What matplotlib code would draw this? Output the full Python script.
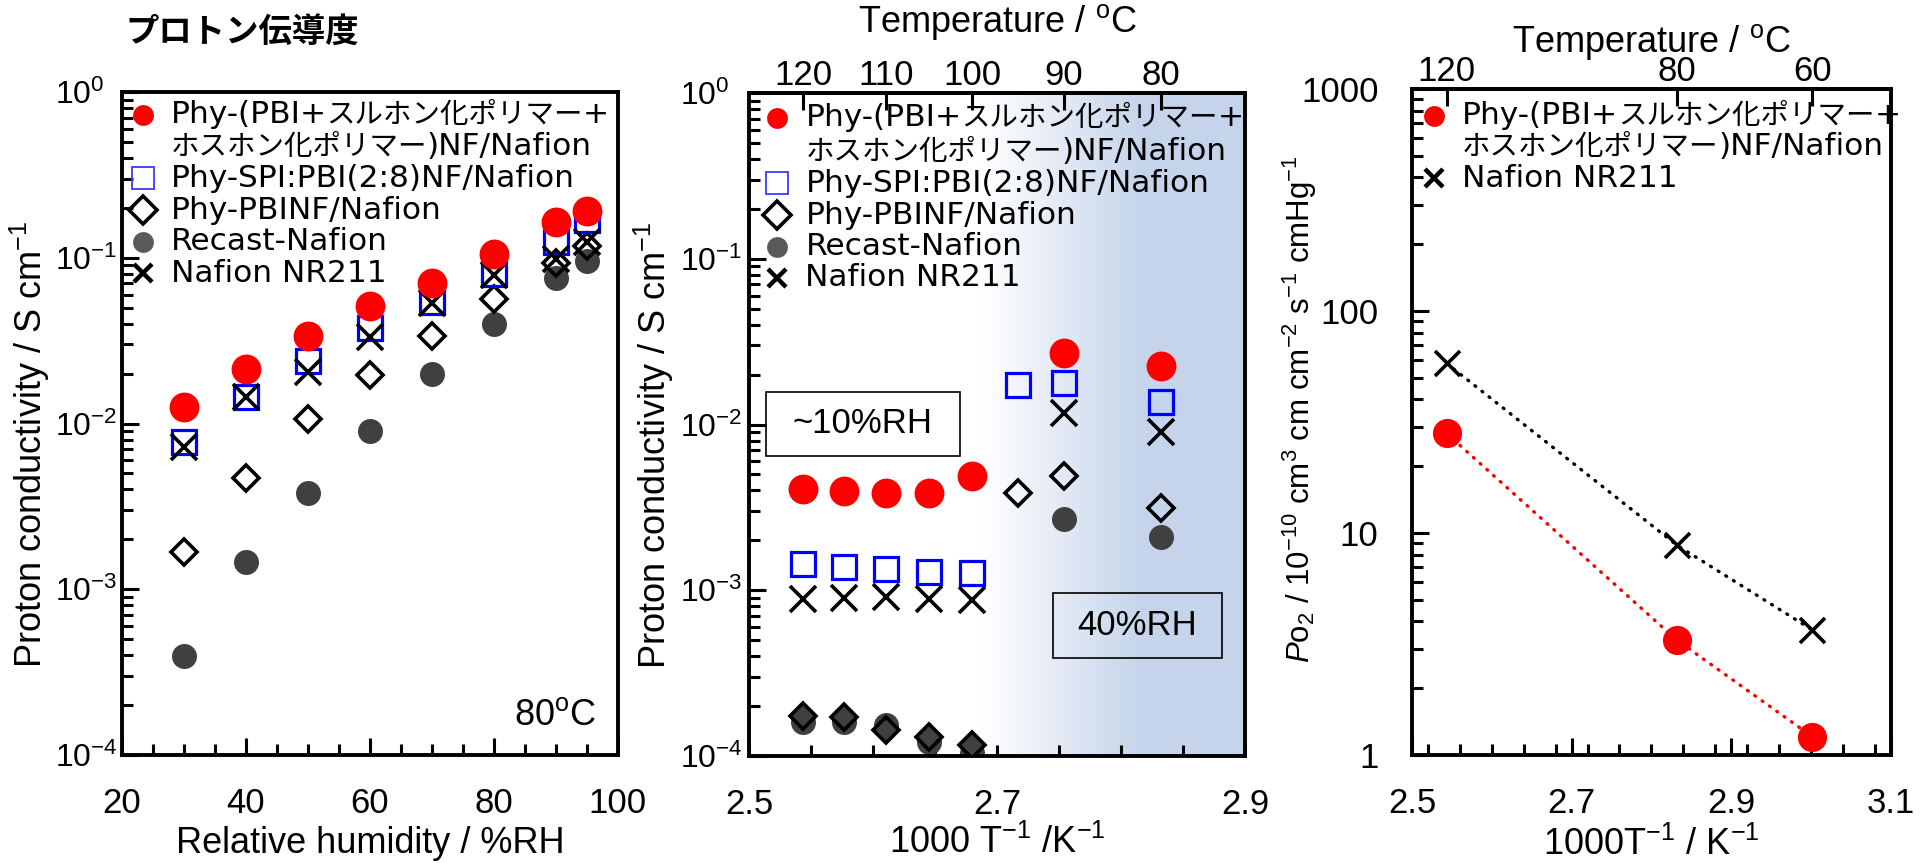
import numpy as np
import matplotlib
matplotlib.use('Agg')
import matplotlib.pyplot as plt
from matplotlib.ticker import FixedLocator, LogLocator, NullFormatter, FuncFormatter, MultipleLocator
from matplotlib.patches import Rectangle
from matplotlib.offsetbox import TextArea, HPacker, AnnotationBbox

plt.rcParams['font.family'] = ['Liberation Sans', 'Noto Sans CJK JP', 'DejaVu Sans']
plt.rcParams['mathtext.fontset'] = 'custom'
plt.rcParams['mathtext.rm'] = 'Liberation Sans'
plt.rcParams['mathtext.it'] = 'Liberation Sans:italic'
plt.rcParams['mathtext.bf'] = 'Liberation Sans:bold'
plt.rcParams['mathtext.default'] = 'regular'

# ---------------- data ----------------
legend_labels = ['Phy-(PBI+スルホン化ポリマー+\nホスホン化ポリマー)NF/Nafion',
                 'Phy-SPI:PBI(2:8)NF/Nafion',
                 'Phy-PBINF/Nafion',
                 'Recast-Nafion',
                 'Nafion NR211']

# left: conductivity vs RH at 80 C
rh = [30, 40, 50, 60, 70, 80, 90, 95]
rh_red = [0.0126, 0.0213, 0.0337, 0.0512, 0.0707, 0.105, 0.164, 0.191]
rh_blue = [0.00777, 0.0145, 0.0239, 0.0375, 0.0543, 0.0798, 0.125, 0.169]
rh_diamond = [0.00169, 0.00471, 0.01065, 0.0196, 0.0337, 0.0564, 0.0933, 0.118]
rh_gray = [0.000395, 0.00147, 0.00379, 0.00906, 0.0198, 0.0398, 0.0751, 0.0960]
rh_x = [0.00724, 0.0145, 0.0204, 0.0334, 0.0531, 0.0787, 0.098, 0.125]

# middle: conductivity vs temperature (10%RH for >=100 C, 40%RH below)
mid_temp = [120, 115, 110, 105, 100, 95, 90, 80]
mid_rh = [10, 10, 10, 10, 10, 40, 40, 40]
mid_red = [0.00406, 0.00399, 0.00388, 0.00385, 0.00489, np.nan, 0.0271, 0.0225]
mid_blue = [0.00145, 0.00139, 0.00134, 0.00129, 0.00127, 0.0173, 0.0177, 0.0137]
mid_diamond = [0.000174, 0.000171, 0.000143, 0.000130, 0.000116, 0.00385, 0.00491, 0.00312]
mid_gray = [0.000161, 0.000161, 0.000154, 0.000122, 0.000104, np.nan, 0.00268, 0.00210]
mid_x = [0.00088, 0.00090, 0.00091, 0.00088, 0.00087, np.nan, 0.0117, 0.00906]

# right: O2 permeability
perm_temp = [120, 80, 60]
perm_red = [28.1, 3.30, 1.21]
perm_x = [58.1, 8.83, 3.66]

top_ticks_mid = [120, 110, 100, 90, 80]
top_ticks_right = [120, 80, 60]

# ---------------- style ----------------
RED = '#ff0000'
BLUE = '#0000ff'
DGRAY = '#404040'
LGRAY = '#5a5a5a'
BG = (0.776, 0.835, 0.922)
SPINE_W = 2.8
TICK_W = 2.2
FS_LABEL = 26
FS_TICK = 25
FS_LEG_LATIN = 22.5
FS_LEG_CJK = 20.5
JP = ['Noto Sans CJK JP', 'DejaVu Sans']


def inv_t(t):
    t = np.asarray(t, dtype=float)
    with np.errstate(divide='ignore', invalid='ignore'):
        return 1000.0 / (t + 273.15)


def t_of(x):
    x = np.asarray(x, dtype=float)
    with np.errstate(divide='ignore', invalid='ignore'):
        return 1000.0 / x - 273.15


def style_axes(ax):
    for s in ax.spines.values():
        s.set_linewidth(SPINE_W)
    ax.tick_params(which='both', direction='in', width=TICK_W,
                   top=False, right=False, labelsize=FS_TICK)
    ax.tick_params(which='major', length=12)
    ax.tick_params(which='minor', length=8)
    ax.tick_params(axis='x', pad=23)


def is_cjk(ch):
    return ord(ch) >= 0x2E80


def mixed_line(text):
    runs = []
    for ch in text:
        c = is_cjk(ch)
        if runs and runs[-1][0] == c:
            runs[-1][1] += ch
        else:
            runs.append([c, ch])
    children = []
    for c, s in runs:
        if c:
            props = dict(fontsize=FS_LEG_CJK, family='Noto Sans CJK JP')
        else:
            props = dict(fontsize=FS_LEG_LATIN, family='DejaVu Sans')
        children.append(TextArea(s, textprops=props))
    return HPacker(children=children, align='baseline', pad=0, sep=0)


def manual_legend(ax, entries, mx, tx, ys):
    i = 0
    for style, label in entries:
        lines = label.split('\n')
        ax.plot([mx], [ys[i]], transform=ax.transAxes, clip_on=False,
                linestyle='none', zorder=9, **style)
        for ln in lines:
            ab = AnnotationBbox(mixed_line(ln), (tx, ys[i]), xycoords='axes fraction',
                                box_alignment=(0, 0.5), frameon=False, pad=0,
                                annotation_clip=False, zorder=9)
            ax.add_artist(ab)
            i += 1


leg_styles = [
    dict(marker='o', ms=15, mfc=RED, mec=RED, mew=0),
    dict(marker='s', ms=15.5, mfc='none', mec='#3b3bff', mew=1.3),
    dict(marker='D', ms=14, mfc='none', mec='black', mew=2.6),
    dict(marker='o', ms=15, mfc=LGRAY, mec=LGRAY, mew=0),
    dict(marker='x', ms=13, mec='black', mew=3.2),
]

fig = plt.figure(figsize=(19.32, 8.63), dpi=100)

# ================= left panel =================
ax1 = fig.add_axes([0.0631, 0.1251, 0.2567, 0.7683])
style_axes(ax1)
ax1.set_yscale('log')
ax1.set_ylim(1e-4, 1)
ax1.set_xlim(20, 100)
ax1.plot(rh, rh_gray, 'o', ms=18, mfc=DGRAY, mec=DGRAY, mew=0, zorder=2)
ax1.plot(rh, rh_diamond, 'D', ms=13.5, mfc='none', mec='black', mew=2.6, zorder=3)
ax1.plot(rh, rh_blue, 's', ms=17, mfc='none', mec=BLUE, mew=2.3, zorder=4)
ax1.plot(rh, rh_x, 'x', ms=18.5, mec='black', mew=2.6, zorder=5)
ax1.plot(rh, rh_red, 'o', ms=21.5, mfc=RED, mec=RED, mew=0, zorder=6)
ax1.xaxis.set_major_locator(MultipleLocator(20))
ax1.xaxis.set_minor_locator(MultipleLocator(5))
ax1.yaxis.set_major_locator(LogLocator(base=10, numticks=10))
ax1.yaxis.set_minor_locator(LogLocator(base=10, subs=np.arange(2, 10), numticks=10))
ax1.yaxis.set_minor_formatter(NullFormatter())
ax1.tick_params(axis='y', pad=48, labelsize=23)
for lab in ax1.get_yticklabels():
    lab.set_horizontalalignment('left')
ax1.set_xlabel('Relative humidity / %RH', fontsize=FS_LABEL, va='center')
ax1.xaxis.set_label_coords(0.5, -0.133)
ax1.set_ylabel('Proton conductivity / S cm$^{-1}$', fontsize=FS_LABEL, va='center')
ax1.yaxis.set_label_coords(-0.185, 0.469)
ax1.text(0.956, 0.060, '80$^{o}$C', transform=ax1.transAxes, ha='right', va='center',
         fontsize=FS_LABEL)
manual_legend(ax1, list(zip(leg_styles, legend_labels)), 0.042, 0.098,
              [0.965, 0.917, 0.870, 0.822, 0.774, 0.727])

# ================= middle panel =================
ax2 = fig.add_axes([0.3879, 0.1240, 0.2567, 0.7682])
style_axes(ax2)
ax2.set_yscale('log')
ax2.set_ylim(1e-4, 1)
ax2.set_xlim(2.5, 2.9)
# background gradient (axes fraction)
ncol = 400
frac = np.linspace(0, 1, ncol)
w = np.clip((frac - 0.47) / (0.79 - 0.47), 0, 1)
img = np.ones((2, ncol, 3))
for c in range(3):
    img[:, :, c] = 1 - w * (1 - BG[c])
ax2.imshow(img, extent=[0, 1, 0, 1], transform=ax2.transAxes, aspect='auto',
           interpolation='bilinear', zorder=0)

mx = inv_t(mid_temp)
low = np.array(mid_rh) == 10
high = ~low
ax2.plot(mx, mid_gray, 'o', ms=18, mfc=DGRAY, mec=DGRAY, mew=0, zorder=2)
ax2.plot(mx[low], np.array(mid_diamond)[low], 'D', ms=12.8, mfc=DGRAY, mec='black',
         mew=2.6, zorder=3)
ax2.plot(mx[high], np.array(mid_diamond)[high], 'D', ms=13.5, mfc='none', mec='black',
         mew=2.6, zorder=3)
ax2.plot(mx, mid_blue, 's', ms=17, mfc='none', mec=BLUE, mew=2.3, zorder=4)
ax2.plot(mx, mid_x, 'x', ms=18.5, mec='black', mew=2.6, zorder=5)
ax2.plot(mx, mid_red, 'o', ms=21.5, mfc=RED, mec=RED, mew=0, zorder=6)
ax2.xaxis.set_major_locator(FixedLocator([2.5, 2.7, 2.9]))
ax2.xaxis.set_minor_locator(MultipleLocator(0.05))
ax2.tick_params(axis='x', which='both', length=8)
ax2.yaxis.set_major_locator(LogLocator(base=10, numticks=10))
ax2.yaxis.set_minor_locator(LogLocator(base=10, subs=np.arange(2, 10), numticks=10))
ax2.yaxis.set_minor_formatter(NullFormatter())
ax2.tick_params(axis='y', pad=50, labelsize=23)
for lab in ax2.get_yticklabels():
    lab.set_horizontalalignment('left')
ax2.set_xlabel('1000 T$^{-1}$ /K$^{-1}$', fontsize=FS_LABEL, va='center')
ax2.xaxis.set_label_coords(0.5, -0.131)
ax2.set_ylabel('Proton conductivity / S cm$^{-1}$', fontsize=FS_LABEL, va='center')
ax2.yaxis.set_label_coords(-0.192, 0.469)

sec2 = ax2.secondary_xaxis('top', functions=(t_of, inv_t))
sec2.set_xticks(top_ticks_mid)
sec2.xaxis.set_minor_locator(FixedLocator([]))
sec2.tick_params(direction='in', length=12, width=TICK_W, labelsize=FS_TICK, pad=1)
sec2.spines['top'].set_linewidth(SPINE_W)
sec2.set_xlabel('Temperature / $^{o}$C', fontsize=FS_LABEL)
sec2.xaxis.set_label_coords(0.5, 1.107, transform=ax2.transAxes)
sec2.xaxis.label.set_va('center')

ax2.add_patch(Rectangle((0.033, 0.4525), 0.392, 0.0965, transform=ax2.transAxes,
                        fill=False, ec='black', lw=1.2, zorder=7))
ax2.text(0.229, 0.501, '~10%RH', transform=ax2.transAxes, ha='center', va='center',
         fontsize=25, zorder=8)
ax2.add_patch(Rectangle((0.613, 0.148), 0.339, 0.098, transform=ax2.transAxes,
                        fill=False, ec='black', lw=1.2, zorder=7))
ax2.text(0.7825, 0.197, '40%RH', transform=ax2.transAxes, ha='center', va='center',
         fontsize=25, zorder=8)
manual_legend(ax2, list(zip(leg_styles, legend_labels)), 0.055, 0.113,
              [0.962, 0.911, 0.864, 0.816, 0.768, 0.721])

# ================= right panel =================
ax3 = fig.add_axes([0.7308, 0.1251, 0.2479, 0.7717])
style_axes(ax3)
ax3.set_yscale('log')
ax3.set_ylim(1, 1000)
ax3.set_xlim(2.5, 3.1)
px = inv_t(perm_temp)
ax3.plot(px, perm_x, linestyle=(0, (0.3, 2.4)), color='black', lw=2.4,
         dash_capstyle='round', zorder=3)
ax3.plot(px, perm_red, linestyle=(0, (0.3, 2.4)), color=RED, lw=2.4,
         dash_capstyle='round', zorder=3)
ax3.plot(px, perm_x, 'x', ms=18, mec='black', mew=2.6, zorder=5)
ax3.plot(px, perm_red, 'o', ms=21, mfc=RED, mec=RED, mew=0, zorder=6)
ax3.xaxis.set_major_locator(FixedLocator([2.5, 2.7, 2.9, 3.1]))
ax3.xaxis.set_minor_locator(MultipleLocator(0.04))
ax3.xaxis.set_major_formatter(FuncFormatter(lambda v, p: f'{v:.1f}'))
ax3.yaxis.set_major_locator(FixedLocator([1, 10, 100, 1000]))
ax3.yaxis.set_minor_locator(LogLocator(base=10, subs=np.arange(2, 10), numticks=10))
ax3.yaxis.set_major_formatter(FuncFormatter(lambda v, p: f'{v:g}'))
ax3.yaxis.set_minor_formatter(NullFormatter())
ax3.tick_params(axis='y', pad=24, labelsize=FS_TICK)
ax3.set_xlabel('1000T$^{-1}$ / K$^{-1}$', fontsize=FS_LABEL, va='center')
ax3.xaxis.set_label_coords(0.5, -0.135)
ax3.set_ylabel(r'$\mathit{P}$o$_{2}$ / 10$^{-10}$ cm$^{3}$ cm cm$^{-2}$ s$^{-1}$ cmHg$^{-1}$',
               fontsize=22.5, va='center')
ax3.yaxis.set_label_coords(-0.234, 0.52)

sec3 = ax3.secondary_xaxis('top', functions=(t_of, inv_t))
sec3.set_xticks(top_ticks_right)
sec3.xaxis.set_minor_locator(FixedLocator([]))
sec3.tick_params(direction='in', length=12, width=TICK_W, labelsize=FS_TICK, pad=1)
sec3.spines['top'].set_linewidth(SPINE_W)
sec3.set_xlabel('Temperature / $^{o}$C', fontsize=FS_LABEL)
sec3.xaxis.set_label_coords(0.5, 1.070, transform=ax3.transAxes)
sec3.xaxis.label.set_va('center')

right_entries = [(leg_styles[0], legend_labels[0]), (leg_styles[4], legend_labels[4])]
manual_legend(ax3, right_entries, 0.046, 0.104, [0.959, 0.913, 0.866])

fig.text(0.065, 0.963, 'プロトン伝導度', family=JP, fontweight='bold', fontsize=24,
         ha='left', va='center')

fig.savefig('out.png', dpi=100)
